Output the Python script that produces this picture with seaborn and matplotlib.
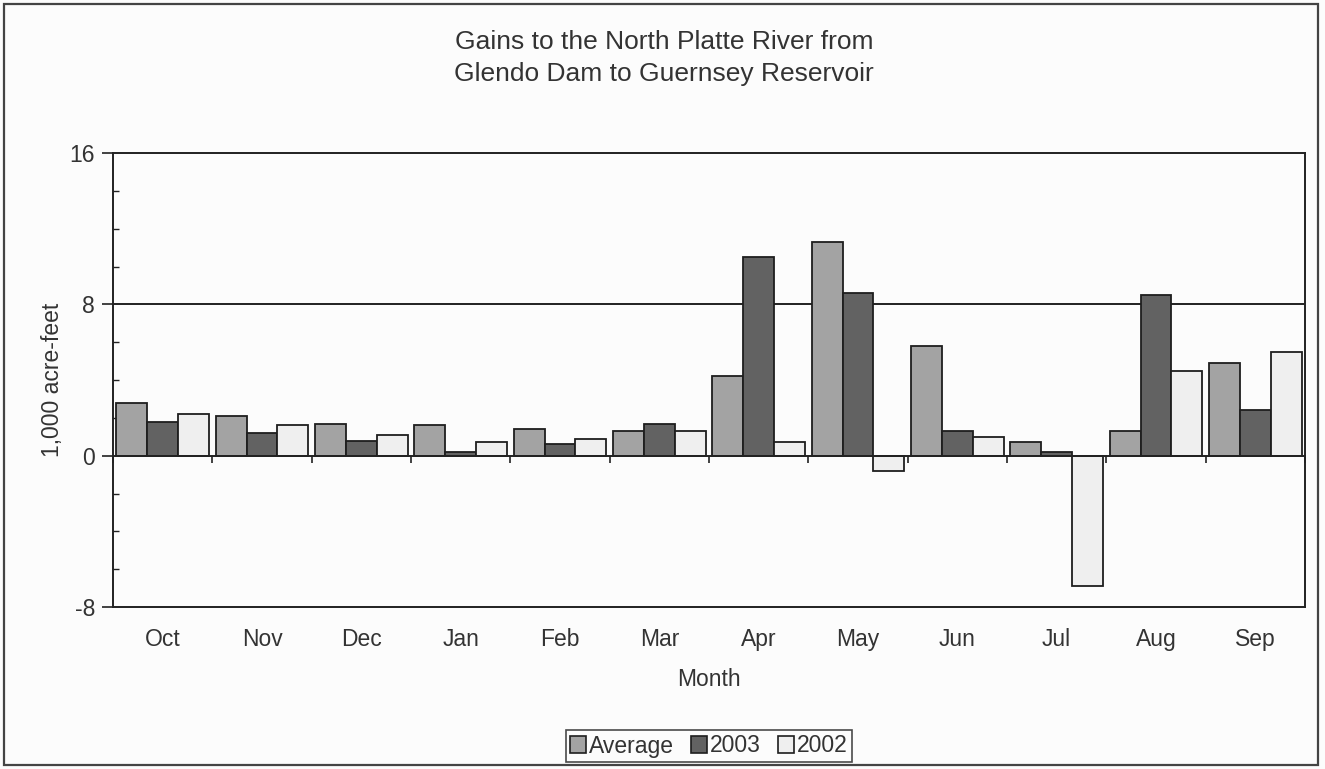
import numpy as np
import pandas as pd
import matplotlib
matplotlib.use("Agg")
import matplotlib.pyplot as plt
from matplotlib.patches import Rectangle
from matplotlib.ticker import MultipleLocator
import seaborn as sns

# Monthly gains, 1,000 acre-feet
months = ["Oct", "Nov", "Dec", "Jan", "Feb", "Mar",
          "Apr", "May", "Jun", "Jul", "Aug", "Sep"]
series = ["Average", "2003", "2002"]
average = [2.8, 2.1, 1.7, 1.6, 1.4, 1.3, 4.2, 11.3, 5.8, 0.7, 1.3, 4.9]
y2003 = [1.8, 1.2, 0.8, 0.2, 0.6, 1.7, 10.5, 8.6, 1.3, 0.2, 8.5, 2.4]
y2002 = [2.2, 1.6, 1.1, 0.7, 0.9, 1.3, 0.7, -0.8, 1.0, -6.9, 4.5, 5.5]

df = pd.DataFrame({
    "Month": months * 3,
    "Series": np.repeat(series, len(months)),
    "Value": average + y2003 + y2002,
})

sns.set_theme(style="white")
plt.rcParams["font.family"] = ["Liberation Sans", "DejaVu Sans"]
plt.rcParams["axes.unicode_minus"] = False
ink = "#333333"
fs = 16.5

fig = plt.figure(figsize=(13.25, 7.69), dpi=100)
fig.patch.set_facecolor("#fcfcfc")
ax = fig.add_axes([113 / 1325, 1 - 607 / 769, (1305 - 113) / 1325, (607 - 153) / 769])
ax.set_facecolor("#fcfcfc")

palette = {"Average": "#a3a3a3", "2003": "#626262", "2002": "#efefef"}
sns.barplot(data=df, x="Month", y="Value", hue="Series", order=months,
            hue_order=series, palette=palette, saturation=1, width=0.93,
            edgecolor="#1e1e1e", linewidth=1.3, ax=ax, legend=False, errorbar=None)

ax.set_xlim(-0.5, len(months) - 0.5)
ax.set_ylim(-8, 16)

# y axis: major ticks outward, minor ticks inward
ax.yaxis.set_major_locator(MultipleLocator(8))
ax.yaxis.set_minor_locator(MultipleLocator(2))
ax.tick_params(axis="y", which="major", direction="out", length=8, width=1.2,
               color="#222222", labelsize=fs, labelcolor=ink, pad=5, left=True)
ax.tick_params(axis="y", which="minor", direction="in", length=4, width=1.0,
               color="#222222", left=True)
ax.axhline(8, color="#222222", lw=1.4, zorder=0.5)

# category axis crosses at zero with tick marks between months
ax.spines["bottom"].set_position(("data", 0))
ax.set_xticks(np.arange(len(months) + 1) - 0.5)
ax.set_xticklabels([])
ax.tick_params(axis="x", which="major", direction="out", length=5, width=1.2,
               color="#222222", bottom=True)
for s in ax.spines.values():
    s.set_color("#222222")
    s.set_linewidth(1.4)
    s.set_visible(True)

# month labels along the bottom frame
sec = ax.secondary_xaxis(0.0)
sec.set_xticks(np.arange(len(months)))
sec.set_xticklabels(months)
sec.tick_params(axis="x", length=0, labelsize=fs, labelcolor=ink, pad=15)
sec.spines["bottom"].set_color("#222222")
sec.spines["bottom"].set_linewidth(1.4)
sec.set_xlabel("Month", fontsize=fs, color=ink, labelpad=12)

ax.set_xlabel("")
ax.set_ylabel("1,000 acre-feet", fontsize=fs, color=ink, labelpad=4)

fig.text(664 / 1325, 1 - 58 / 769, "Gains to the North Platte River from\nGlendo Dam to Guernsey Reservoir",
         ha="center", va="center", fontsize=19, color=ink, linespacing=1.38)

# legend
handles = [Rectangle((0, 0), 1, 1, facecolor=palette[s], edgecolor="#1e1e1e", lw=1.2)
           for s in series]
leg = fig.legend(handles, series, loc="center", bbox_to_anchor=(709 / 1325, 1 - 746 / 769),
                 ncol=3, frameon=True, fancybox=False, edgecolor="#1e1e1e",
                 fontsize=fs, handlelength=0.7, handleheight=0.7,
                 handletextpad=0.12, columnspacing=0.75, borderpad=0.2,
                 borderaxespad=0, labelcolor=ink)
leg.get_frame().set_linewidth(1.2)
leg.get_frame().set_facecolor("#fcfcfc")

# outer chart frame
fig.patches.append(Rectangle((4 / 1325, 1 - 765 / 769), (1318 - 4) / 1325, (765 - 4) / 769,
                             transform=fig.transFigure, fill=False,
                             edgecolor="#444444", lw=1.6))

fig.savefig("out.png", dpi=100, facecolor=fig.get_facecolor())
